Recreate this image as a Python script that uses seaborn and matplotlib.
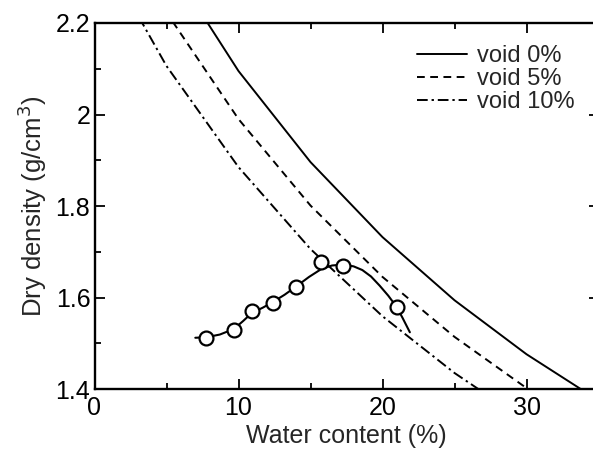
import matplotlib
matplotlib.use("Agg")
import matplotlib.pyplot as plt
import matplotlib.ticker as mticker
import seaborn as sns
import pandas as pd

# Zero-air-void curves (values read at w = 0,5,...,35 %)
w_void = [0, 5, 10, 15, 20, 25, 30, 35]
rho_void0 = [2.650, 2.340, 2.095, 1.896, 1.732, 1.594, 1.476, 1.375]
rho_void5 = [2.518, 2.223, 1.990, 1.801, 1.645, 1.514, 1.402, 1.306]
rho_void10 = [2.385, 2.106, 1.885, 1.706, 1.559, 1.435, 1.329, 1.237]

# Measured compaction points
w_meas = [7.75, 9.67, 10.92, 12.38, 14.0, 15.74, 17.29, 20.99]
rho_meas = [1.511, 1.530, 1.570, 1.588, 1.624, 1.677, 1.668, 1.579]

# Fitted compaction curve
w_fit = [7.0, 7.75, 8.7, 9.67, 10.3, 10.92, 11.7, 12.38, 13.2, 14.0, 14.9, 15.74,
         16.5, 17.29, 18.0, 18.6, 19.2, 19.8, 20.4, 20.99, 21.4, 21.9]
rho_fit = [1.512, 1.513, 1.519, 1.531, 1.548, 1.566, 1.578, 1.590, 1.606, 1.624,
           1.645, 1.662, 1.670, 1.672, 1.668, 1.660, 1.646, 1.626, 1.604, 1.579,
           1.555, 1.524]

x_ticks = [0, 10, 20, 30]
y_ticks = [1.4, 1.6, 1.8, 2.0, 2.2]
legend_labels = ["void 0%", "void 5%", "void 10%"]

sns.set_theme(style="ticks")
plt.rcParams["font.family"] = ["Liberation Sans", "DejaVu Sans"]

fig = plt.figure(figsize=(5.93, 4.55), dpi=100)
ax = fig.add_axes([94.5 / 593, 1 - 389 / 455, 504 / 593, 366 / 455])

lw = 1.4
sns.lineplot(x=w_void, y=rho_void0, ax=ax, color="black", lw=lw,
             linestyle="-", label=legend_labels[0])
sns.lineplot(x=w_void, y=rho_void5, ax=ax, color="black", lw=lw,
             linestyle=(0, (4.0, 2.8)), label=legend_labels[1])
sns.lineplot(x=w_void, y=rho_void10, ax=ax, color="black", lw=lw,
             linestyle=(0, (5.5, 2.0, 1.2, 2.0)), label=legend_labels[2])

sns.lineplot(x=w_fit, y=rho_fit, ax=ax, color="black", lw=1.5, legend=False)
sns.scatterplot(x=w_meas, y=rho_meas, ax=ax, s=100, facecolor="white",
                edgecolor="black", linewidth=1.6, zorder=5, legend=False)

ax.set_xlim(0, 35)
ax.set_ylim(1.4, 2.2)
ax.set_xticks(x_ticks)
ax.set_yticks(y_ticks)
ax.xaxis.set_minor_locator(mticker.MultipleLocator(5))
ax.yaxis.set_minor_locator(mticker.MultipleLocator(0.1))
ax.yaxis.set_major_formatter(mticker.FuncFormatter(lambda v, p: f"{v:g}"))
ax.xaxis.set_major_formatter(mticker.FuncFormatter(lambda v, p: f"{v:g}"))

ax.tick_params(which="both", direction="in", top=True, right=True,
               width=1.3, colors="black", labelsize=18)
ax.tick_params(which="major", length=7.5)
ax.tick_params(which="minor", length=4.5)
ax.tick_params(axis="y", which="major", pad=3)
ax.tick_params(axis="x", which="major", pad=5)
for sp in ax.spines.values():
    sp.set_visible(True)
    sp.set_linewidth(1.7)
    sp.set_color("black")

ax.set_xlabel("Water content (%)", fontsize=18, labelpad=3)
ax.set_ylabel("Dry density (g/cm$^3$)", fontsize=18.5, labelpad=5)

leg = ax.legend(loc="upper left", bbox_to_anchor=(0.64, 0.94), frameon=False,
                fontsize=17, handlelength=2.1, handletextpad=0.45,
                labelspacing=0.05, borderpad=0, borderaxespad=0)

fig.savefig("out.png", dpi=100)
